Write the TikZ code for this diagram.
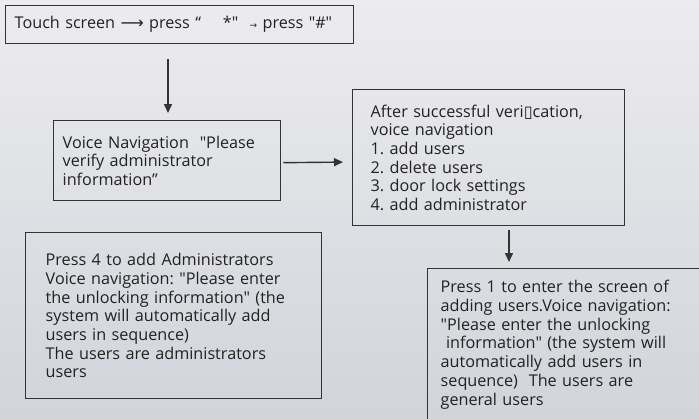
\documentclass[tikz,border=0pt]{standalone}
\usepackage{fontspec}
\setmainfont{Open Sans}[Ligatures=TeXOff]
\newfontfamily\symfont{DejaVu Sans}
\usetikzlibrary{arrows.meta}
\definecolor{bgtop}{HTML}{ECECEF}
\definecolor{bgbot}{HTML}{D1D4DA}
\definecolor{ink}{HTML}{222222}
\definecolor{edge}{HTML}{333333}
\tikzset{
  x=1pt, y=-1pt,
  boxstyle/.style={draw=edge, line width=1.4pt, rectangle, anchor=north west, align=left,
    font=\fontsize{16.2}{18.7}\selectfont\frenchspacing, text=ink, inner ysep=0pt},
  arr/.style={draw=edge, line width=1.4pt, -{Triangle[length=9pt,width=8pt]}},
}
\begin{document}
\begin{tikzpicture}
\shade[top color=bgtop, bottom color=bgbot] (0,0) rectangle (699,418);
\useasboundingbox (0,0) rectangle (699,418);
\begin{scope}
\clip (0,0) rectangle (699,418);
\node[boxstyle, minimum height=38pt, text width=330pt, inner xsep=9pt] (b1) at (5,5)
  {Touch screen {\symfont\char"27F6} press “\hspace{1.35em}*"\hspace{0.7em}{\symfont\small→} press "\#"};
\node[boxstyle, minimum height=80pt, text width=209pt, inner xsep=9pt] (b2) at (53,120)
  {Voice Navigation\ \ "Please\\verify administrator\\information”};
\node[boxstyle, minimum height=136pt, text width=236pt, inner xsep=18pt] (b3) at (352,89)
  {After successful veri{\symfont\char"25AF}cation,\\voice navigation\\1. add users\\2. delete users\\3. door lock settings\\4. add administrator};
\node[boxstyle, minimum height=166pt, text width=256pt, inner xsep=20pt] (b4) at (25,232)
  {Press 4 to add Administrators\\Voice navigation: "Please enter\\the unlocking information" (the\\system will automatically add\\users in sequence)\\The users are administrators\\users};
\node[boxstyle, minimum height=152pt, text width=260pt, inner xsep=13pt] (b5) at (427,268)
  {Press 1 to enter the screen of\\adding users.Voice navigation:\\"Please enter the unlocking\\\ information" (the system will\\automatically add users in\\sequence)\ \ The users are\\general users};
\end{scope}
\coordinate (c1) at (168,0);
\coordinate (c3) at (509,0);
\draw[arr, shorten <=15pt, shorten >=7pt] (b1.south -| c1) -- (b2.north -| c1);
\draw[arr, shorten <=2pt, shorten >=9pt] (b2.east) ++(0,2) -- (b3.west |- 0,162);
\draw[arr, shorten <=4pt, shorten >=6pt] (b3.south -| c3) -- (b5.north -| c3);
\end{tikzpicture}
\end{document}
